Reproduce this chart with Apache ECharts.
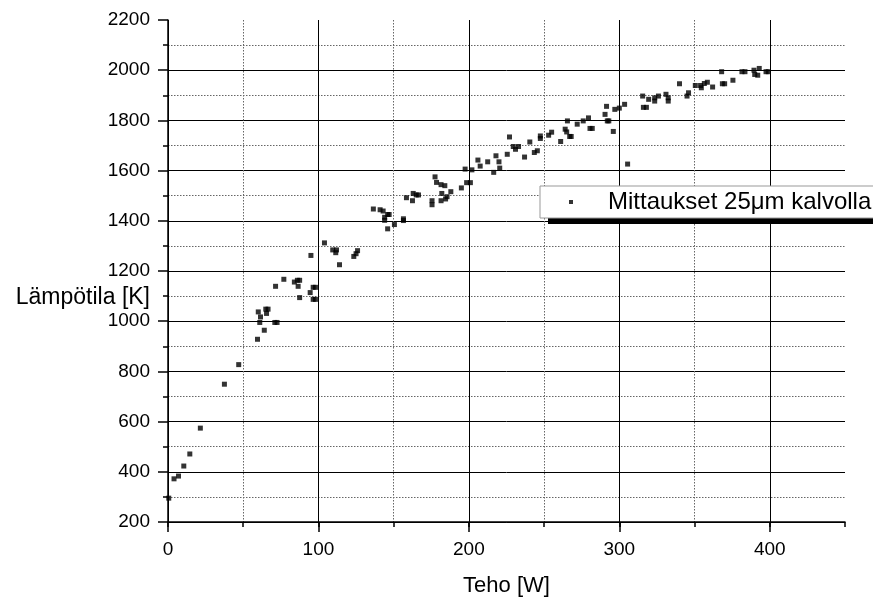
<!DOCTYPE html>
<html>
<head>
<meta charset="utf-8">
<script src="https://cdn.jsdelivr.net/npm/echarts@6/dist/echarts.min.js"></script>
<style>html,body{margin:0;padding:0;background:#fff;}#c{width:873px;height:602px;}</style>
</head>
<body>
<div id="c"></div>
<script>
var seriesName = 'Mittaukset 25\u03bcm kalvolla';
var xTicks = [0, 100, 200, 300, 400];
var yTicks = [200, 400, 600, 800, 1000, 1200, 1400, 1600, 1800, 2000, 2200];
var power = [0.5,4,7,10.5,14.5,21.5,37.5,47,59.5,64,60,61.5,61,65,66.5,65.5,71,72.5,71.5,77,84,86,87.5,86.5,87.5,94.5,96.5,98,96.5,98,95,104,109.5,112,111.5,114,123.5,125,126,136.5,141,143,146,147,144,144,146,150.5,156.5,156.5,158.5,163,165,166.5,162.5,175.5,175.5,177.5,178.5,181.5,184,182,188,185.5,184.5,181.5,195,197.5,202,198.5,201,206,207.5,212.5,218,216.5,220,220.5,225.5,227,229.5,231,233,237,240.5,243.5,245.5,247.5,247.5,253,255,261,264,265,265.5,267,268,272,276,279.5,280.5,282,290.5,291.5,292,293,296,297,300,303.5,305.5,315.5,316,318,319.5,323.5,323.5,326,331,332.5,332.5,340,345,346,350.5,354,354.5,356.5,358.5,362,368,368.5,370,375.5,381.5,383.5,389.5,390,392,393,397.5,399];
var temperature = [295,372,383,423,471,574,749,827,928,964,1037,1017,995,1048,1048,1031,995,995,1139,1167,1156,1163,1163,1139,1094,1114,1135,1135,1087,1087,1262,1312,1284,1284,1273,1225,1258,1269,1281,1447,1444,1439,1425,1425,1414,1402,1368,1385,1408,1401,1492,1509,1503,1503,1480,1480,1464,1575,1553,1544,1540,1509,1516,1496,1487,1480,1531,1606,1603,1552,1552,1642,1618,1635,1659,1593,1635,1610,1665,1734,1696,1685,1696,1654,1714,1672,1679,1738,1728,1741,1753,1716,1765,1754,1798,1736,1736,1785,1798,1810,1768,1768,1824,1856,1798,1798,1756,1844,1849,1864,1626,1897,1852,1852,1884,1890,1877,1897,1904,1890,1877,1946,1897,1910,1939,1939,1930,1947,1952,1933,1994,1946,1946,1960,1994,1994,2000,1983,1980,2007,1994,1994];

var FONT = 'Liberation Sans, Arial, sans-serif';
var points = power.map(function (p, i) { return [p, temperature[i]]; });

var chart = echarts.init(document.getElementById('c'), null, {renderer: 'canvas'});
chart.setOption({
  animation: false,
  backgroundColor: '#fff',
  grid: {left: 168, top: 20, right: 28, bottom: 78, containLabel: false},
  xAxis: [{
    type: 'value', min: 0, max: 450, interval: 100, position: 'bottom', z: 1,
    name: 'Teho [W]', nameLocation: 'middle', nameGap: 53,
    nameTextStyle: {fontSize: 22, color: '#000', fontFamily: FONT},
    axisLine: {show: true, onZero: false, lineStyle: {color: '#000', width: 1.5}},
    axisTick: {show: true, length: 10, lineStyle: {color: '#000', width: 1.5}},
    axisLabel: {show: true, fontSize: 19, color: '#000', fontFamily: FONT, margin: 18, showMaxLabel: false,
      formatter: function (v) { return xTicks.indexOf(v) >= 0 ? String(v) : ''; }},
    splitLine: {show: true, showMaxLine: false, lineStyle: {color: '#000', width: 1, type: 'solid'}}
  }, {
    type: 'value', min: 0, max: 450, interval: 50, position: 'bottom', z: 0,
    axisLine: {show: false},
    axisTick: {show: true, length: 5, lineStyle: {color: '#000', width: 1.5}},
    axisLabel: {show: false},
    splitLine: {show: true, showMaxLine: false, lineStyle: {color: '#666', width: 1, type: [1.5, 1.5]}}
  }],
  yAxis: {
    type: 'value', min: 200, max: 2200, interval: 200,
    axisLine: {show: true, lineStyle: {color: '#000', width: 1.5}},
    axisTick: {show: true, length: 10, lineStyle: {color: '#000', width: 1.5}},
    minorTick: {show: true, splitNumber: 2, length: 5, lineStyle: {color: '#000', width: 1.5}},
    axisLabel: {show: true, fontSize: 19, color: '#000', fontFamily: FONT, margin: 18,
      formatter: function (v) { return yTicks.indexOf(v) >= 0 ? String(v) : ''; }},
    splitLine: {show: true, showMaxLine: false, lineStyle: {color: '#000', width: 1}},
    minorSplitLine: {show: true, lineStyle: {color: '#666', width: 1, type: [1.5, 1.5]}}
  },
  legend: {
    show: true, data: [seriesName], left: 540, top: 186, orient: 'horizontal', z: 10,
    backgroundColor: '#fff', borderColor: '#999', borderWidth: 1,
    padding: [4, 40, 4, 29],
    itemWidth: 4, itemHeight: 4, icon: 'rect',
    selectedMode: false,
    textStyle: {fontSize: 24, color: '#000', fontFamily: FONT, lineHeight: 24, padding: [0, 0, 0, 30]}
  },
  graphic: {elements: [{
    type: 'rect', z: 5, shape: {x: 548, y: 193, width: 360, height: 31}, style: {fill: '#000'}
  }, {
    type: 'text', right: 873 - 150, top: 286, z: 5,
    style: {text: 'L\u00e4mp\u00f6tila [K]', fontSize: 23, fill: '#000', fontFamily: FONT}
  }]},
  series: [{
    name: seriesName, type: 'scatter', xAxisIndex: 0,
    symbol: 'rect', symbolSize: 5,
    itemStyle: {color: '#000'},
    data: points
  }]
});
</script>
</body>
</html>
